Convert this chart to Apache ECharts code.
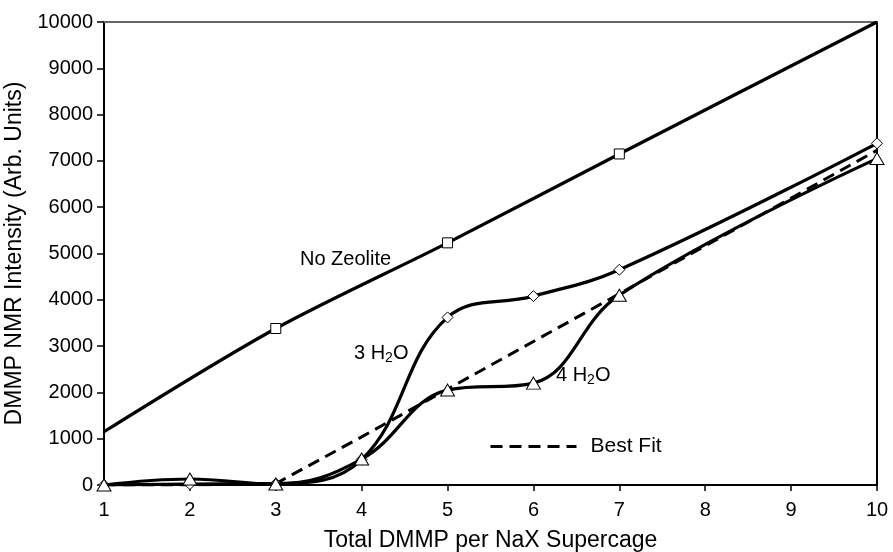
<!DOCTYPE html>
<html>
<head>
<meta charset="utf-8">
<script src="https://cdn.jsdelivr.net/npm/echarts@6/dist/echarts.min.js"></script>
<style>
  html, body { margin: 0; padding: 0; background: #fff; }
  #chart { width: 893px; height: 552px; }
</style>
</head>
<body>
<div id="chart"></div>
<script>
// values
const xNoZeolite = [1, 3, 5, 7, 10];
const noZeolite = [1150, 3380, 5230, 7150, 10000];

const xWater = [1, 2, 3, 4, 5, 6, 7, 10];
const water3 = [0, 20, 30, 550, 3620, 4080, 4650, 7380];
const water4 = [0, 130, 20, 560, 2050, 2200, 4100, 7050];

const xFit = [1, 2, 3, 4, 5, 6, 7, 10];
const bestFit = [0, 0, 30, 1040, 2070, 3100, 4130, 7230];

const yTicks = [0, 1000, 2000, 3000, 4000, 5000, 6000, 7000, 8000, 9000, 10000];

(function() {
  const chart = echarts.init(document.getElementById('chart'));
  const font = 'Liberation Sans, Arial, sans-serif';

  const pairs = (xs, ys) => xs.map((x, i) => [x, ys[i]]);

  // square markers only on the measured points, not the line ends
  const noZeoData = xNoZeolite.map((x, i) => {
    const item = { value: [x, noZeolite[i]] };
    if (i === 0 || i === xNoZeolite.length - 1) item.symbol = 'none';
    return item;
  });

  const triangle = 'path://M0,-1 L1,0.8 L-1,0.8 Z';
  const h2o = (num) => ({
    text: '{n|' + num + ' H}{s|2}{n|O}',
    rich: {
      n: { fontSize: 20, fontFamily: font, fill: '#000' },
      s: { fontSize: 14, fontFamily: font, fill: '#000', padding: [10, 0, 0, 0] }
    }
  });

  chart.setOption({
    animation: false,
    textStyle: { fontFamily: font },
    grid: { left: 104, right: 16, top: 22, bottom: 67, containLabel: false, outerBoundsMode: 'none' },
    legend: {
      data: ['Best Fit'],
      left: 484,
      top: 431,
      itemWidth: 86,
      itemHeight: 18,
      itemStyle: { opacity: 0 },
      lineStyle: { width: 3, type: [12, 7] },
      textStyle: { fontSize: 21, color: '#000', fontFamily: font, padding: [0, 0, 0, 9] }
    },
    xAxis: [{
      type: 'value',
      min: 1, max: 10, interval: 1,
      name: 'Total DMMP per NaX Supercage',
      nameLocation: 'middle',
      nameGap: 44,
      nameTextStyle: { fontSize: 23, color: '#000' },
      axisLine: { lineStyle: { color: '#000', width: 2 } },
      axisTick: { show: true, length: 6, lineStyle: { color: '#000', width: 1.5 } },
      axisLabel: { fontSize: 20, color: '#000', margin: 15 },
      splitLine: { show: false }
    }, {
      type: 'value', position: 'top',
      min: 1, max: 10,
      axisLine: { show: true, onZero: false, lineStyle: { color: '#666', width: 2 } },
      axisTick: { show: false }, axisLabel: { show: false }, splitLine: { show: false }
    }],
    yAxis: [{
      type: 'value',
      min: 0, max: 10000, interval: 1000,
      name: 'DMMP NMR Intensity (Arb. Units)',
      nameLocation: 'middle',
      nameGap: 72,
      nameTextStyle: { fontSize: 23, color: '#000' },
      axisLine: { show: true, lineStyle: { color: '#000', width: 2 } },
      axisTick: { show: true, length: 7, lineStyle: { color: '#000', width: 1.5 } },
      axisLabel: { fontSize: 20, color: '#000', margin: 11,
        formatter: v => yTicks.includes(v) ? String(v) : '' },
      splitLine: { show: false }
    }, {
      type: 'value', position: 'right',
      min: 0, max: 10000,
      axisLine: { show: true, onZero: false, lineStyle: { color: '#000', width: 2 } },
      axisTick: { show: false }, axisLabel: { show: false }, splitLine: { show: false }
    }],
    series: [
      {
        name: 'No Zeolite',
        type: 'line',
        data: noZeoData,
        smooth: 0.3,
        symbol: 'rect',
        symbolSize: 10,
        lineStyle: { color: '#000', width: 3.2 },
        itemStyle: { color: '#fff', borderColor: '#000', borderWidth: 1 },
        z: 3
      },
      {
        name: 'Best Fit',
        type: 'line',
        data: pairs(xFit, bestFit),
        smooth: false,
        symbol: 'none',
        lineStyle: { color: '#000', width: 3, type: [12, 7] },
        itemStyle: { color: '#000' },
        z: 2
      },
      {
        name: '3 H2O',
        type: 'line',
        data: pairs(xWater, water3),
        smooth: 0.4,
        symbol: 'diamond',
        symbolSize: 11,
        lineStyle: { color: '#000', width: 3.2 },
        itemStyle: { color: '#fff', borderColor: '#000', borderWidth: 1 },
        z: 3
      },
      {
        name: '4 H2O',
        type: 'line',
        data: pairs(xWater, water4),
        smooth: 0.4,
        symbol: triangle,
        symbolSize: [14, 12],
        lineStyle: { color: '#000', width: 3.2 },
        itemStyle: { color: '#fff', borderColor: '#000', borderWidth: 1 },
        z: 4
      }
    ],
    graphic: [
      {
        type: 'text', left: 300, top: 249,
        style: { text: 'No Zeolite', font: '20px ' + font, fill: '#000' }
      },
      { type: 'text', left: 354, top: 343, style: h2o(3) },
      { type: 'text', left: 556, top: 365, style: h2o(4) }
    ]
  });

  window.addEventListener('resize', () => chart.resize());
})();
</script>
</body>
</html>
